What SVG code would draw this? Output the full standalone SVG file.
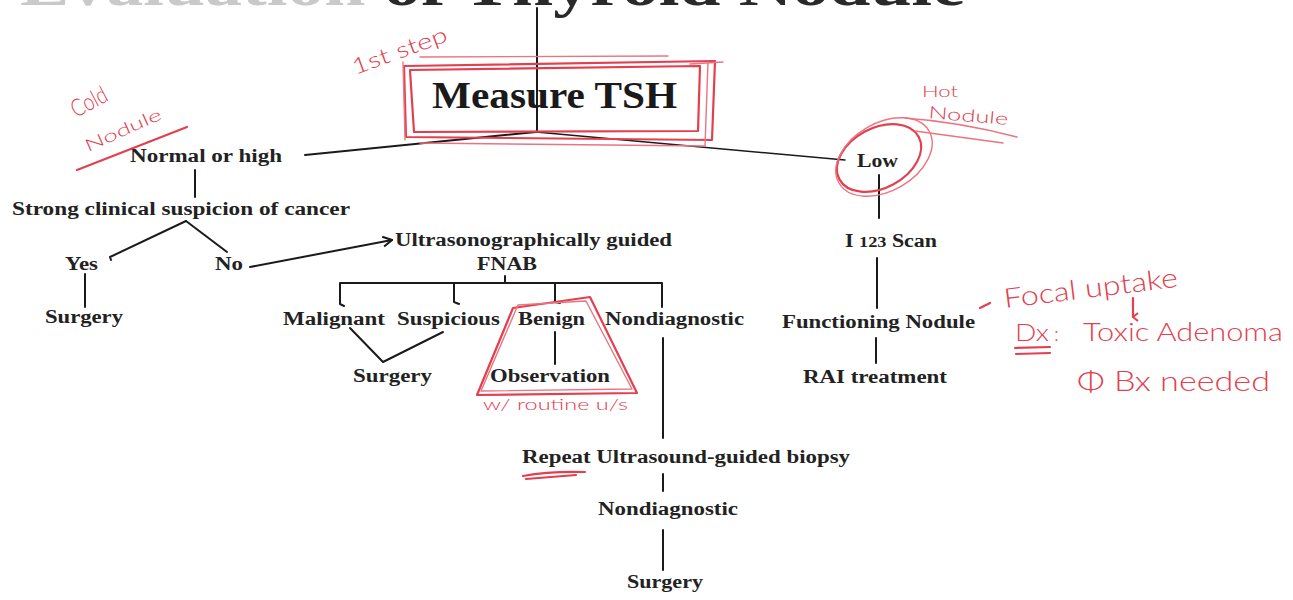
<svg xmlns="http://www.w3.org/2000/svg" width="1293" height="600" viewBox="0 0 1293 600">
<style>
.lbl{font-family:"Liberation Serif","Times New Roman",serif;font-weight:bold;font-size:18px;fill:#222}
.big{font-size:38px;fill:#1a1a1a}
.title{font-family:"Liberation Serif","Times New Roman",serif;font-weight:bold;font-size:60px;fill:#2a2a2a}
.conn{fill:none;stroke:#1a1a1a;stroke-width:2;stroke-linecap:round;stroke-linejoin:round}
.thin{stroke-width:1.5}
.red{fill:none;stroke:#e2404f;stroke-width:2.2;stroke-linecap:round;stroke-linejoin:round}
.redl{fill:none;stroke:#ec7480;stroke-width:1.4;stroke-linecap:round;stroke-linejoin:round}
.hw{font-family:Lato,"Open Sans",sans-serif;font-weight:300;fill:#e2404f}
</style>
<defs>
<marker id="open" viewBox="0 0 12 12" refX="11" refY="6" markerWidth="12" markerHeight="12" markerUnits="userSpaceOnUse" orient="auto">
<path d="M2 1 L11 6 L2 11" fill="none" stroke="#1a1a1a" stroke-width="2"/>
</marker>
<marker id="redhead" viewBox="0 0 10 10" refX="5" refY="9" markerWidth="10" markerHeight="10" markerUnits="userSpaceOnUse" orient="auto-start-reverse">
<path d="M1 4 L5 9 L9 4" fill="none" stroke="#e2404f" stroke-width="2"/>
</marker>
</defs>
<rect width="1293" height="600" fill="#ffffff"/>

<g id="title">
<text class="title" x="20" y="5" textLength="945" lengthAdjust="spacingAndGlyphs"><tspan fill="#c9c9c9">Evaluation </tspan>of Thyroid Nodule</text>
</g>

<g id="connectors">
<path class="conn" d="M537 8 V132"/>
<path class="conn" d="M536 132 L305 155"/>
<path class="conn thin" d="M536 132 L845 160"/>
<path class="conn" d="M195 170 V197"/>
<path class="conn" d="M186 221 L110 257 l1 3"/>
<path class="conn" d="M186 221 L227 252"/>
<path class="conn" d="M85 274 V307"/>
<path class="conn" d="M250 267 L392 240" marker-end="url(#open)"/>
<path class="conn" d="M505 276 V283 M340 283 H662 M340 283 V304 l4 2 M454 283 V302 l5 2 M555 283 V302 l5 1 M662 283 V307"/>
<path class="conn" d="M350 328 L383 362 L443 332"/>
<path class="conn" d="M555 332 V364"/>
<path class="conn" d="M663 338 V438"/>
<path class="conn" d="M663 474 V491"/>
<path class="conn" d="M663 530 V570"/>
<path class="conn" d="M879 175 V218"/>
<path class="conn" d="M877 258 V308"/>
<path class="conn" d="M876 338 V363"/>
</g>

<g id="measure-tsh"><text class="lbl big" x="432" y="108" textLength="245" lengthAdjust="spacingAndGlyphs">Measure TSH</text></g>
<g id="normal-high"><text class="lbl" x="130" y="162" textLength="152" lengthAdjust="spacingAndGlyphs">Normal or high</text></g>
<g id="suspicion"><text class="lbl" x="12" y="215" textLength="338" lengthAdjust="spacingAndGlyphs">Strong clinical suspicion of cancer</text></g>
<g id="yes"><text class="lbl" x="65" y="270" textLength="33" lengthAdjust="spacingAndGlyphs">Yes</text></g>
<g id="no"><text class="lbl" x="215" y="270" textLength="28" lengthAdjust="spacingAndGlyphs">No</text></g>
<g id="surgery-yes"><text class="lbl" x="45" y="323" textLength="78" lengthAdjust="spacingAndGlyphs">Surgery</text></g>
<g id="fnab">
<text class="lbl" x="395" y="246" textLength="277" lengthAdjust="spacingAndGlyphs">Ultrasonographically guided</text>
<text class="lbl" x="477" y="270" textLength="60" lengthAdjust="spacingAndGlyphs">FNAB</text>
</g>
<g id="malignant"><text class="lbl" x="283" y="325" textLength="102" lengthAdjust="spacingAndGlyphs">Malignant</text></g>
<g id="suspicious"><text class="lbl" x="397" y="325" textLength="103" lengthAdjust="spacingAndGlyphs">Suspicious</text></g>
<g id="benign"><text class="lbl" x="518" y="325" textLength="67" lengthAdjust="spacingAndGlyphs">Benign</text></g>
<g id="nondiagnostic"><text class="lbl" x="605" y="325" textLength="139" lengthAdjust="spacingAndGlyphs">Nondiagnostic</text></g>
<g id="surgery-fnab"><text class="lbl" x="353" y="382" textLength="79" lengthAdjust="spacingAndGlyphs">Surgery</text></g>
<g id="observation"><text class="lbl" x="490" y="382" textLength="120" lengthAdjust="spacingAndGlyphs">Observation</text></g>
<g id="repeat-biopsy"><text class="lbl" x="522" y="463" textLength="328" lengthAdjust="spacingAndGlyphs">Repeat Ultrasound-guided biopsy</text></g>
<g id="nondiagnostic-2"><text class="lbl" x="598" y="515" textLength="140" lengthAdjust="spacingAndGlyphs">Nondiagnostic</text></g>
<g id="surgery-final"><text class="lbl" x="627" y="588" textLength="76" lengthAdjust="spacingAndGlyphs">Surgery</text></g>
<g id="low"><text class="lbl" x="857" y="167" textLength="41" lengthAdjust="spacingAndGlyphs">Low</text></g>
<g id="scan"><text class="lbl" x="845" y="247" textLength="92" lengthAdjust="spacingAndGlyphs">I <tspan font-size="15px">123</tspan> Scan</text></g>
<g id="functioning"><text class="lbl" x="782" y="328" textLength="193" lengthAdjust="spacingAndGlyphs">Functioning Nodule</text></g>
<g id="rai"><text class="lbl" x="803" y="383" textLength="144" lengthAdjust="spacingAndGlyphs">RAI treatment</text></g>

<g id="annotations">
<path class="red" d="M404 66 L715 61 L712 140 L406 137 Z"/>
<path class="red" d="M410 70 L700 66 L698 131 L414 132 Z"/>
<path class="redl" d="M420 57 L668 56 M403 62 L405 140 M690 64 L723 62 M420 143 L705 146 L708 62"/>
<text class="hw" x="355" y="75" font-size="22" transform="rotate(-20 355 75)" textLength="100" lengthAdjust="spacingAndGlyphs">1st step</text>

<text class="hw" x="76" y="118" font-size="24" transform="rotate(-28 76 118)" textLength="38" lengthAdjust="spacingAndGlyphs">Cold</text>
<text class="hw" x="88" y="152" font-size="17" transform="rotate(-24 88 152)" textLength="82" lengthAdjust="spacingAndGlyphs">Nodule</text>
<path class="red" d="M77 170 L187 127"/>

<ellipse class="red" cx="879" cy="158" rx="45" ry="30" transform="rotate(-28 879 158)"/>
<ellipse class="redl" cx="884" cy="157" rx="52" ry="34" transform="rotate(-30 884 157)"/>
<path class="redl" d="M905 118 Q960 122 1017 137 M915 131 L1003 143"/>
<text class="hw" x="922" y="97" font-size="16" textLength="36" lengthAdjust="spacingAndGlyphs">Hot</text>
<text class="hw" x="928" y="118" font-size="17" transform="rotate(5 928 118)" textLength="80" lengthAdjust="spacingAndGlyphs">Nodule</text>

<path class="red" d="M513 308 L590 297 L637 393 L477 395 Z"/>
<path class="redl" d="M518 305 L586 301 L632 389 L481 391 Z"/>
<text class="hw" x="483" y="410" font-size="15" textLength="145" lengthAdjust="spacingAndGlyphs">w/ routine u/s</text>

<path class="red" d="M523 476 Q550 471 585 472 M526 479 L576 475"/>

<path class="red" d="M980 308 L990 303"/>
<text class="hw" x="1005" y="308" font-size="27" transform="rotate(-7 1005 308)" textLength="175" lengthAdjust="spacingAndGlyphs">Focal uptake</text>
<path class="red" d="M1133 298 V317" marker-end="url(#redhead)"/>
<text class="hw" x="1015" y="341" font-size="24" textLength="34" lengthAdjust="spacingAndGlyphs">Dx</text>
<text class="hw" x="1054" y="341" font-size="20">:</text>
<text class="hw" x="1083" y="341" font-size="26" textLength="200" lengthAdjust="spacingAndGlyphs">Toxic Adenoma</text>
<path class="red" d="M1015 348 L1050 347 M1016 354 L1050 353"/>
<text class="hw" x="1077" y="391" font-size="27" textLength="193" lengthAdjust="spacingAndGlyphs">Φ Bx needed</text>
</g>
</svg>
